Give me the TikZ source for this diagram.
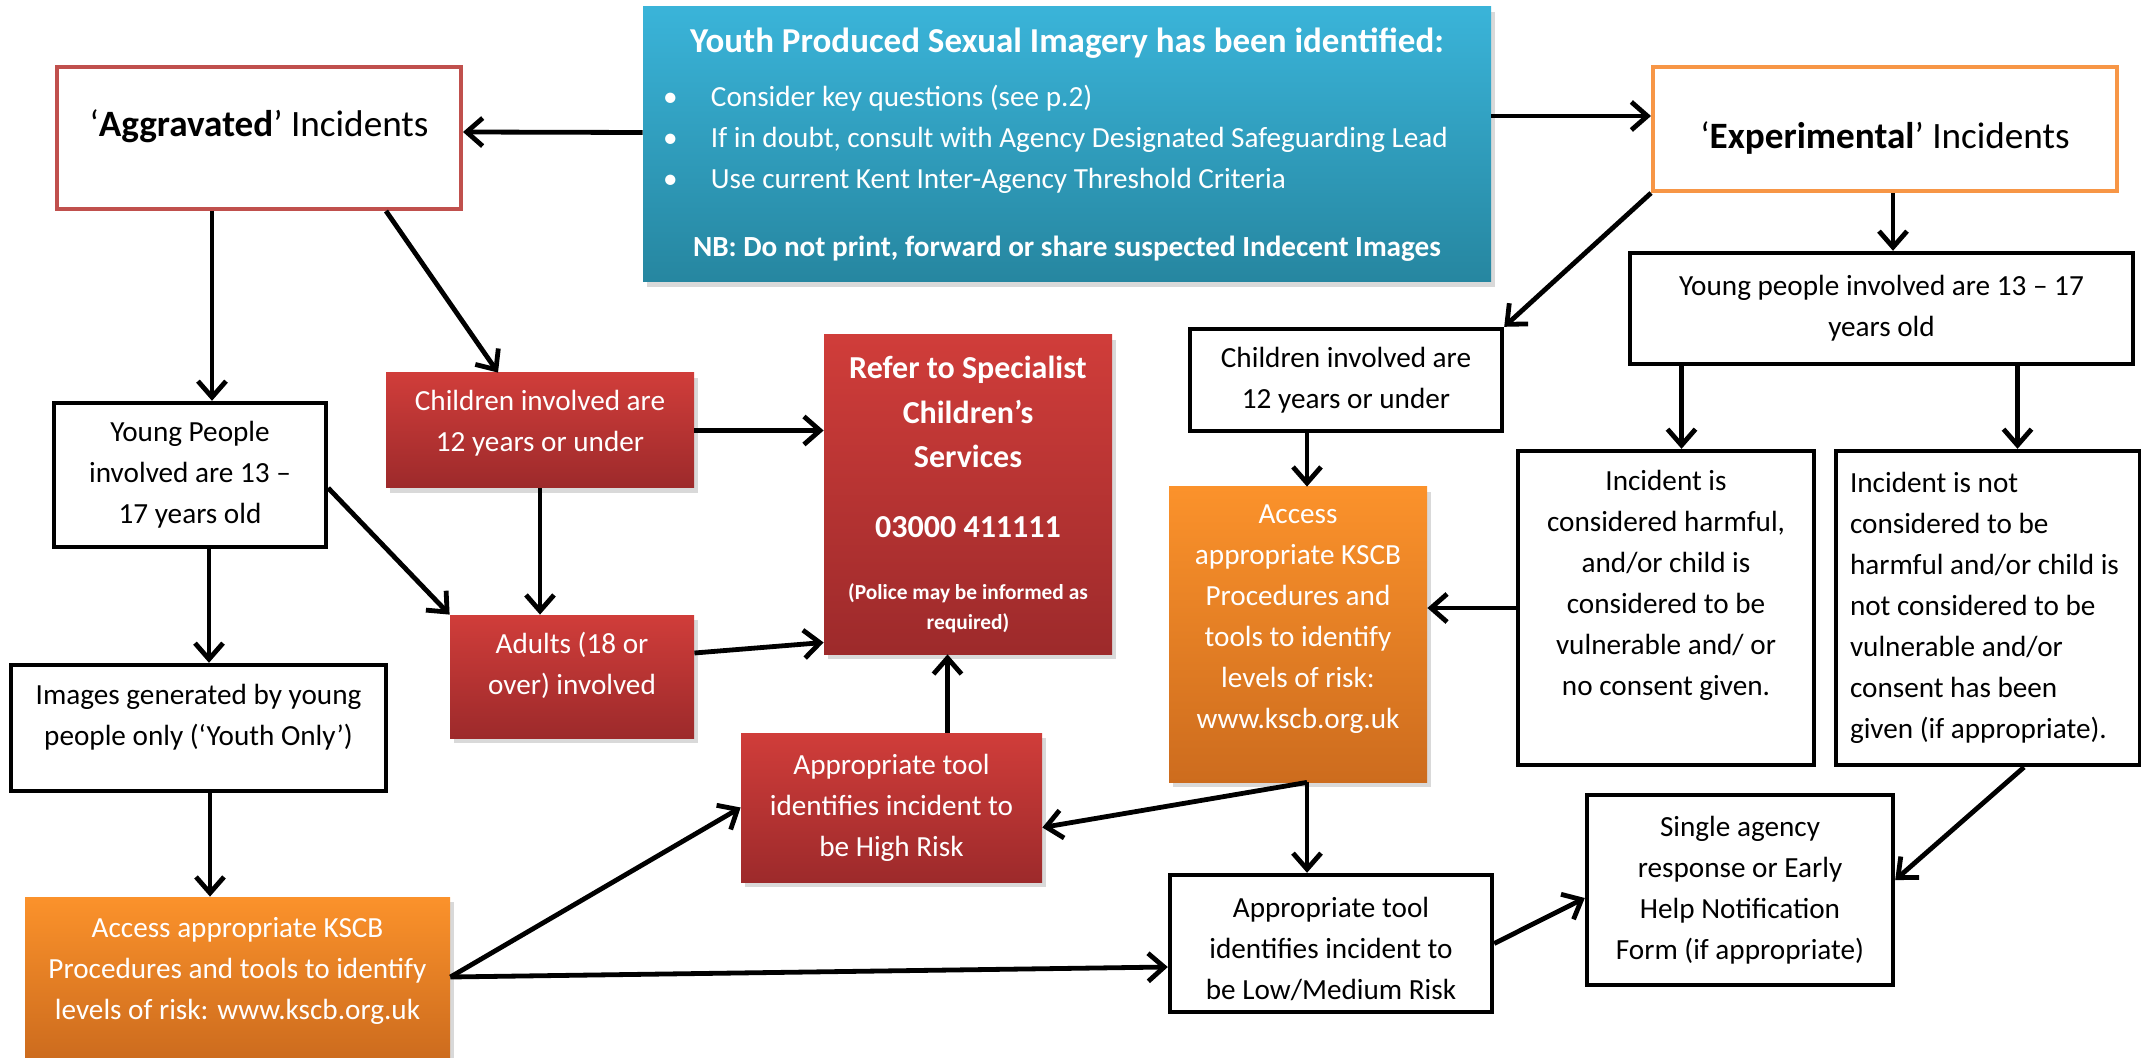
\documentclass[tikz,border=0pt]{standalone}
\usepackage{fontspec}
\setmainfont{Carlito}
\usepackage{tikz}
\usetikzlibrary{arrows.meta,shadows}

\definecolor{bluetop}{RGB}{58,180,217}
\definecolor{bluebot}{RGB}{38,134,160}
\definecolor{redtop}{RGB}{208,61,58}
\definecolor{redbot}{RGB}{157,42,43}
\definecolor{orangetop}{RGB}{251,146,43}
\definecolor{orangebot}{RGB}{205,108,30}
\definecolor{aggred}{RGB}{192,80,77}
\definecolor{expor}{RGB}{247,150,70}

\newcommand{\ypsitem}[1]{\makebox[404pt][l]{\makebox[24pt][l]{\textbullet}#1}}

\begin{document}
\begin{tikzpicture}[x=0.5pt, y=-0.5pt,
    box/.style={rectangle, align=center, inner sep=0pt,
        font=\fontsize{14.6}{20.5}\selectfont},
    whitebox/.style={box, draw=black, line width=2.2pt, fill=white},
    redbox/.style={box, top color=redtop, bottom color=redbot, text=white,
        drop shadow={opacity=0.3, shadow xshift=2pt, shadow yshift=-2.5pt}},
    orangebox/.style={box, top color=orangetop, bottom color=orangebot, text=white,
        drop shadow={opacity=0.3, shadow xshift=2pt, shadow yshift=-2.5pt}},
    headbox/.style={box, line width=2pt, fill=white,
        font=\fontsize{18.6}{22}\selectfont},
    arr/.style={-{Straight Barb[length=8pt,width=14pt]}, line width=2.4pt}]

    \useasboundingbox (0,0) rectangle (2141,1058);

    % top row
    \node[box, text=white, top color=bluetop, bottom color=bluebot,
        minimum width=424pt, minimum height=137.5pt,
        drop shadow={opacity=0.3, shadow xshift=2pt, shadow yshift=-2.5pt}] (yps) at (1067,144.5) {%
        {\fontsize{17.5}{20.5}\selectfont\bfseries Youth Produced Sexual Imagery has been identified:}\\[6.75pt]
        \ypsitem{Consider key questions (see p.2)}\\
        \ypsitem{If in doubt, consult with Agency Designated Safeguarding Lead}\\
        \ypsitem{Use current Kent Inter-Agency Threshold Criteria}\\[13.25pt]
        \textbf{NB: Do not print, forward or share suspected Indecent Images}};
    \node[headbox, draw=aggred, minimum width=202pt, minimum height=71pt,
        text depth=15pt] (agg) at (259,138) {‘\textbf{Aggravated}’ Incidents};
    \node[headbox, draw=expor, minimum width=232pt, minimum height=62pt,
        text height=22pt] (exp) at (1885,129) {‘\textbf{Experimental}’ Incidents};

    % aggravated side
    \node[whitebox, minimum width=136pt, minimum height=72pt] (ypl) at (190,475)
        {Young People\\involved are 13 –\\17 years old};
    \node[redbox, minimum width=154pt, minimum height=57.5pt] (chl) at (540,430.5)
        {Children involved are\\12 years or under\\[-11pt]\mbox{}};
    \node[redbox, minimum width=122pt, minimum height=61.5pt] (adu) at (572,676.5)
        {Adults (18 or\\over) involved\\[-7pt]\mbox{}};
    \node[whitebox, minimum width=187.5pt, minimum height=63pt] (img) at (198.5,728)
        {Images generated by young\\people only (‘Youth Only’)\\[-7pt]\mbox{}};
    \node[orangebox, minimum width=212.5pt, minimum height=80pt] (accl) at (237.5,977)
        {Access appropriate KSCB\\Procedures and tools to identify\\levels of risk: www.kscb.org.uk\\[-11.5pt]\mbox{}};
    \node[redbox, minimum width=144pt, minimum height=159.5pt,
        font=\bfseries\fontsize{16}{22.25}\selectfont] (ref) at (968,494.5)
        {Refer to Specialist\\Children’s\\Services\\[12.75pt]03000 411111\\[8.75pt]
        \fontsize{10.7}{15}\selectfont(Police may be informed as\\[-7.25pt]
        \fontsize{10.7}{15}\selectfont required)};
    \node[redbox, minimum width=150.5pt, minimum height=74.5pt] (hr) at (891.5,807.5)
        {Appropriate tool\\identifies incident to\\be High Risk};

    % experimental side
    \node[whitebox, minimum width=156pt, minimum height=51pt] (chr) at (1346,380)
        {Children involved are\\12 years or under};
    \node[orangebox, minimum width=129pt, minimum height=147.5pt] (accm) at (1298,634.5)
        {Access\\appropriate KSCB\\Procedures and\\tools to identify\\levels of risk:\\www.kscb.org.uk\\[-3pt]\mbox{}};
    \node[whitebox, minimum width=251.5pt, minimum height=55.5pt] (ypr) at (1881.5,308.5)
        {Young people involved are 13 – 17\\years old};
    \node[whitebox, minimum width=148pt, minimum height=157pt] (harm) at (1666,608)
        {Incident is\\considered harmful,\\and/or child is\\considered to be\\vulnerable and/ or\\no consent given.\\[5pt]\mbox{}};
    \node[whitebox, minimum width=152pt, minimum height=157pt, text width=138pt,
        align=flush left] (nharm) at (1988,608)
        {Incident is not\\considered to be\\harmful and/or child is\\not considered to be\\vulnerable and/or\\consent has been\\given (if appropriate).};
    \node[whitebox, minimum width=161pt, minimum height=68.5pt] (low) at (1331,943.5)
        {\mbox{}\\[-4.5pt]Appropriate tool\\identifies incident to\\be Low/Medium Risk};
    \node[whitebox, minimum width=153pt, minimum height=95pt] (single) at (1740,890)
        {Single agency\\response or Early\\Help Notification\\Form (if appropriate)};

    % connectors
    \draw[arr] ([yshift=6pt]yps.west) -- ([yshift=3pt]agg.east);
    \draw[arr] ([yshift=14.25pt]yps.east) -- ([yshift=6.5pt]exp.west);
    \draw[arr] ([xshift=-23.5pt]agg.south) -- ([xshift=-23.5pt]agg.south |- ypl.north);
    \draw[arr] ([xshift=63.5pt]agg.south) -- ([xshift=-21pt]chl.north);
    \draw[arr] ([yshift=-6.5pt]ypl.east) -- (adu.north west);
    \draw[arr] (chl.south) -- (chl.south |- adu.north);
    \draw[arr] (chl.east) -- (chl.east -| ref.west);
    \draw[arr] ([yshift=11.75pt]adu.east) -- ([yshift=-74pt]ref.west);
    \draw[arr] ([xshift=9.5pt]ypl.south) -- ([xshift=9.5pt]ypl.south |- img.north);
    \draw[arr] ([xshift=5.75pt]img.south) -- ([xshift=5.75pt]img.south |- accl.north);
    \draw[arr] (accl.east) -- (hr.west);
    \draw[arr] (accl.east) -- ([yshift=-11.75pt]low.west);
    \draw[arr] ([xshift=28pt]hr.north) -- ([xshift=28pt]hr.north |- ref.south);
    \draw[arr] ([xshift=4.5pt]accm.south) -- ([yshift=-10pt]hr.east);
    \draw[arr] ([xshift=4.5pt]accm.south) -- ([xshift=4.5pt]accm.south |- low.north);
    \draw[arr] ([xshift=-19.5pt]chr.south) -- ([xshift=-19.5pt]chr.south |- accm.north);
    \draw[arr] (exp.south west) -- (chr.north east);
    \draw[arr] ([xshift=4pt]exp.south) -- ([xshift=4pt]exp.south |- ypr.north);
    \draw[arr] ([xshift=-100pt]ypr.south) -- ([xshift=-100pt]ypr.south |- harm.north);
    \draw[arr] ([xshift=68pt]ypr.south) -- ([xshift=68pt]ypr.south |- nharm.north);
    \draw[arr] (harm.west) -- (harm.west -| accm.east);
    \draw[arr] ([xshift=18pt]nharm.south) -- ([yshift=5pt]single.east);
    \draw[arr] (low.east) -- ([yshift=-4pt]single.west);
\end{tikzpicture}
\end{document}
